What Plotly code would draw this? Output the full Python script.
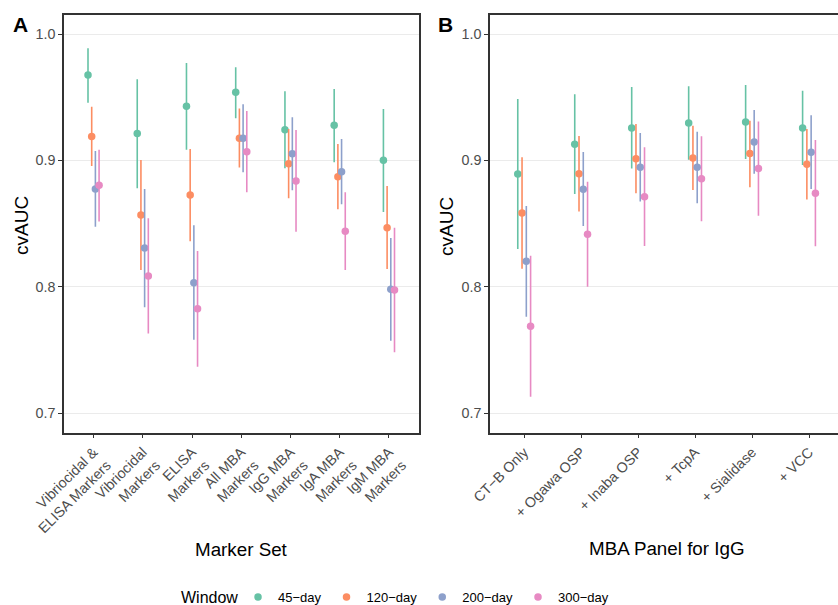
import plotly.graph_objects as go

# ---------------- data ----------------
windows = ["45\u2212day", "120\u2212day", "200\u2212day", "300\u2212day"]
colors = ["#66C2A5", "#FC8D62", "#8DA0CB", "#E78AC3"]

marker_sets = ["Vibriocidal &<br>ELISA Markers", "Vibriocidal<br>Markers", "ELISA<br>Markers",
               "All MBA<br>Markers", "IgG MBA<br>Markers", "IgA MBA<br>Markers", "IgM MBA<br>Markers"]
mba_panels = ["CT\u2212B Only", "+ Ogawa OSP", "+ Inaba OSP", "+ TcpA", "+ Sialidase", "+ VCC"]

a_auc_45 = [0.9676, 0.9212, 0.9428, 0.9539, 0.9243, 0.9278, 0.9001]
a_lo_45 = [0.9457, 0.8780, 0.9085, 0.9333, 0.8938, 0.8985, 0.8592]
a_hi_45 = [0.9887, 0.9642, 0.9771, 0.9737, 0.9547, 0.9565, 0.9407]
a_auc_120 = [0.9190, 0.8568, 0.8726, 0.9175, 0.8974, 0.8871, 0.8468]
a_lo_120 = [0.8956, 0.8133, 0.8360, 0.8943, 0.8700, 0.8613, 0.8141]
a_hi_120 = [0.9425, 0.9003, 0.9090, 0.9410, 0.9248, 0.9130, 0.8798]
a_auc_200 = [0.8774, 0.8307, 0.8033, 0.9175, 0.9053, 0.8911, 0.7980]
a_lo_200 = [0.8476, 0.7838, 0.7582, 0.8906, 0.8763, 0.8653, 0.7574]
a_hi_200 = [0.9074, 0.8774, 0.8487, 0.9444, 0.9341, 0.9169, 0.8386]
a_auc_300 = [0.8803, 0.8086, 0.7827, 0.9069, 0.8837, 0.8439, 0.7975]
a_lo_300 = [0.8516, 0.7630, 0.7368, 0.8748, 0.8436, 0.8133, 0.7482]
a_hi_300 = [0.9085, 0.8542, 0.8283, 0.9391, 0.9240, 0.8748, 0.8468]

b_auc_45 = [0.8893, 0.9127, 0.9256, 0.9296, 0.9304, 0.9256]
b_lo_45 = [0.8300, 0.8734, 0.8935, 0.9006, 0.9011, 0.8964]
b_hi_45 = [0.9486, 0.9523, 0.9581, 0.9586, 0.9597, 0.9552]
b_auc_120 = [0.8584, 0.8895, 0.9014, 0.9019, 0.9054, 0.8969]
b_lo_120 = [0.8143, 0.8595, 0.8740, 0.8766, 0.8787, 0.8690]
b_hi_120 = [0.9025, 0.9193, 0.9288, 0.9275, 0.9314, 0.9248]
b_auc_200 = [0.8202, 0.8771, 0.8945, 0.8945, 0.9146, 0.9064]
b_lo_200 = [0.7764, 0.8481, 0.8674, 0.8661, 0.8895, 0.8774]
b_hi_200 = [0.8639, 0.9066, 0.9217, 0.9227, 0.9399, 0.9357]
b_auc_300 = [0.7688, 0.8415, 0.8713, 0.8855, 0.8935, 0.8740]
b_lo_300 = [0.7131, 0.8000, 0.8323, 0.8518, 0.8563, 0.8321]
b_hi_300 = [0.8246, 0.8832, 0.9104, 0.9191, 0.9307, 0.9162]

y_ticks = [0.7, 0.8, 0.9, 1.0]
y_ticktext = ["0.7", "0.8", "0.9", "1.0"]

panel_a = [(a_auc_45, a_lo_45, a_hi_45), (a_auc_120, a_lo_120, a_hi_120),
           (a_auc_200, a_lo_200, a_hi_200), (a_auc_300, a_lo_300, a_hi_300)]
panel_b = [(b_auc_45, b_lo_45, b_hi_45), (b_auc_120, b_lo_120, b_hi_120),
           (b_auc_200, b_lo_200, b_hi_200), (b_auc_300, b_lo_300, b_hi_300)]

# ---------------- figure ----------------
W, H = 838, 605
FONT = "Liberation Sans, Arial, sans-serif"
dodge = [-0.1125, -0.0375, 0.0375, 0.1125]

fig = go.Figure()

for panel, (xa, ya), show in [(panel_a, ("x", "y"), True), (panel_b, ("x2", "y2"), False)]:
    for k, (auc, lo, hi) in enumerate(panel):
        xs = [i + dodge[k] for i in range(len(auc))]
        fig.add_trace(go.Scatter(
            x=xs, y=auc, xaxis=xa, yaxis=ya, mode="markers",
            name=windows[k], legendgroup=windows[k], showlegend=show,
            marker=dict(color=colors[k], size=7.5, line=dict(width=0)),
            error_y=dict(type="data", symmetric=False,
                         array=[h - a for h, a in zip(hi, auc)],
                         arrayminus=[a - l for a, l in zip(auc, lo)],
                         color=colors[k], thickness=1.6, width=0),
        ))

ytop, ybot = 15, 432.5
ydom = [1 - ybot / H, 1 - ytop / H]
axis_common = dict(showline=True, linecolor="#333333", linewidth=1.6,
                   ticks="outside", ticklen=4, tickcolor="#333333", tickwidth=1.1,
                   tickfont=dict(family=FONT, size=14.3, color="#4D4D4D"),
                   zeroline=False, automargin=False)

fig.update_layout(
    width=W, height=H,
    margin=dict(l=0, r=0, t=0, b=0, autoexpand=False),
    paper_bgcolor="white", plot_bgcolor="white",
    font=dict(family=FONT),
    xaxis=dict(domain=[64 / W, 418.5 / W], range=[-0.6, 6.6], tickvals=list(range(len(marker_sets))),
               ticktext=marker_sets, tickangle=-45, showgrid=False, mirror=True, anchor="y",
               **axis_common),
    yaxis=dict(domain=ydom, range=[0.68473, 1.01503], tickvals=y_ticks, ticktext=y_ticktext,
               showgrid=True, gridcolor="#EBEBEB", gridwidth=1.1, mirror=True, anchor="x",
               **axis_common),
    xaxis2=dict(domain=[490 / W, 1.0], range=[-0.6, 5.509], tickvals=list(range(len(mba_panels))),
                ticktext=mba_panels, tickangle=-45, showgrid=False, mirror=True, anchor="y2",
                **axis_common),
    yaxis2=dict(domain=ydom, range=[0.68473, 1.01503], tickvals=y_ticks, ticktext=y_ticktext,
                showgrid=True, gridcolor="#EBEBEB", gridwidth=1.1, mirror=False, anchor="x2",
                **axis_common),
    legend=dict(orientation="h", x=238 / W, xanchor="left", y=1 - 597 / H, yanchor="middle",
                font=dict(family=FONT, size=13, color="black"),
                bgcolor="rgba(0,0,0,0)"),
)

def ann(text, x, y, size, angle=0, bold=False, xanchor="center"):
    fig.add_annotation(text=f"<b>{text}</b>" if bold else text, xref="paper", yref="paper",
                       x=x / W, y=1 - y / H, xanchor=xanchor, yanchor="middle",
                       showarrow=False, textangle=angle,
                       font=dict(family=FONT, size=size, color="black"))

ann("Marker Set", 241.2, 549, 18.8)
ann("MBA Panel for IgG", 666.5, 548, 18.8)
ann("cvAUC", 21, 226, 19, angle=-90)
ann("cvAUC", 446, 226, 19, angle=-90)
ann("A", 20.6, 24.5, 21, bold=True)
ann("B", 445.5, 24.5, 21, bold=True)
ann("Window", 209.5, 597, 16)

fig.write_html("out.html", config={"displayModeBar": False},
               post_script="document.body.style.margin='0';document.body.style.overflow='hidden';")
